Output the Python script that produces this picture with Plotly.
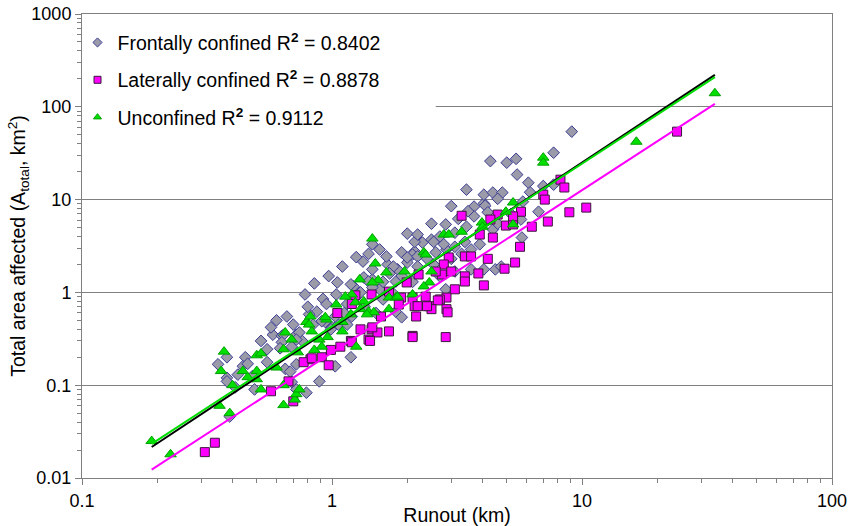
import numpy as np
import plotly.graph_objects as go

# ---------------- data ----------------
front_x = [0.35,0.38,0.38,0.38,0.45,0.44,0.46,0.48,0.49,0.55,0.55,0.58,0.63,0.65,0.68,0.72,0.69,0.39,0.72,0.72,
           0.64,0.63,0.69,0.76,0.89,0.79,1.19,0.87,0.81,0.94,1.0,1.06,0.74,1.8,1.9,2.85,3.1,4.05,4.5,
           1.05,1.22,1.34,1.45,1.55,1.74,1.6,1.4,1.33,1.45,1.67,1.83,2.0,2.55,2.7,1.65,1.9,2.14,2.0,2.3,2.5,2.7,3.1,3.45,2.5,2.85,3.7,4.05,
           2.1,1.76,1.19,1.04,1.4,1.8,0.91,0.72,1.15,1.03,0.99,1.45,
           3.45,4.05,4.4,4.8,4.1,4.2,3.7,2.14,2.55,2.2,2.87,2.0,2.2,5.75,4.75,3.6,4.4,3.4,3.1,
           9.1,7.7,5.45,5.0,4.3,5.5,6.1,4.6,6.7,5.7,7.0,7.7,1.03,
           0.78,0.85,0.92,0.97,1.1,1.25,1.15,1.25,1.3,0.6,0.66,0.52,0.57,0.62,0.8,0.84,1.12,1.2,1.35,1.5,
           1.6,1.7,1.9,2.1,2.2,2.4,2.6,2.8,3.0,3.3,3.6,3.9,3.2,3.5,4.6,5.2,5.8,6.2,3.0,
           1.45,1.55,0.42,0.41,0.95,0.7]
front_y = [0.168,0.2,0.12,0.11,0.2,0.16,0.17,0.125,0.09,0.177,0.244,0.35,0.34,0.15,0.14,0.168,0.108,0.046,0.35,0.09,
           0.35,0.29,0.26,0.3,0.11,0.083,0.2,0.62,0.58,0.48,0.42,0.45,0.37,0.62,0.54,1.08,1.68,1.77,1.77,
           1.28,1.16,1.45,1.38,1.08,1.0,0.84,2.6,2.15,1.77,2.0,1.77,2.1,2.0,1.49,2.44,2.7,2.76,4.3,3.45,3.7,4.0,4.4,5.1,5.5,5.4,8.4,9.1,
           2.56,1.9,1.22,0.95,1.31,1.31,0.49,0.31,0.45,0.55,0.4,1.13,
           12.8,11.3,11.9,11.9,8.6,7.3,6.6,3.5,3.5,4.2,2.9,2.38,2.44,3.9,1.9,1.77,4.76,3.5,3.1,
           54,32,27.5,25,26,18.6,15.2,10.2,7.4,6.1,14,14.5,0.16,
           0.95,1.25,0.85,1.5,1.9,2.4,0.75,0.9,1.0,0.5,0.55,0.3,0.42,0.25,0.7,0.45,0.6,0.55,0.7,0.6,
           1.3,1.6,1.5,1.3,1.9,2.3,2.7,3.3,2.3,2.6,2.9,3.3,6.2,7.5,5.5,7.0,9.5,12,8.5,
           3.3,2.9,0.13,0.095,0.75,0.45]

lat_x = [0.31,0.34,0.57,0.67,0.7,
         1.24,1.44,1.69,1.89,2.1,2.14,2.17,1.85,1.3,1.44,1.52,1.69,2.1,1.4,1.19,1.08,0.99,0.91,0.82,0.77,0.97,
         3.3,4.6,4.96,5.3,3.9,4.4,5.65,3.4,3.6,4.2,2.93,2.8,3.0,2.75,3.4,3.85,4.9,5.4,3.4,4.05,3.1,2.22,1.99,2.87,2.7,2.37,2.2,2.45,2.87,
         8.2,8.5,7.0,7.1,10.4,8.9,7.3,6.3,5.7,5.3,4.3,
         2.85,2.9,2.65,2.5,24,2.1,0.83,1.2,1.42,1.45,1.57,2.4,2.6,1.2,1.05]
lat_y = [0.019,0.024,0.086,0.11,0.067,
         0.93,0.95,1.02,0.88,0.88,0.71,0.55,0.74,0.4,0.4,0.37,0.38,0.34,0.31,0.3,0.26,0.24,0.2,0.19,0.177,0.164,
         6.7,6.9,5.25,5.4,4.2,3.9,3.1,2.44,2.44,2.3,2.38,2.0,1.68,1.56,1.49,1.6,1.8,2.1,1.31,1.19,1.08,1.56,1.28,0.88,0.84,0.9,0.71,0.71,0.66,
         16.4,13.5,11.3,10.0,8.2,7.3,5.8,5.1,7.4,6.6,6.1,
         0.33,0.61,0.82,0.66,54,0.33,0.195,0.29,0.3,0.42,0.55,0.71,1.68,0.75,0.6]

unc_x = [0.19,0.226,0.355,0.39,0.37,0.36,0.5,0.52,0.44,0.46,0.5,0.5,0.52,0.6,0.64,0.65,0.69,0.64,0.71,0.72,0.64,0.4,0.74,0.79,
         1.49,1.29,1.53,1.65,1.95,1.2,1.04,1.24,1.34,1.3,1.4,1.47,1.69,1.8,1.69,0.82,0.81,0.95,1.1,1.1,0.83,0.89,0.91,0.85,0.96,1.25,
         5.3,4.96,5.3,3.98,3.3,2.8,2.93,2.33,2.5,2.45,2.33,2.1,
         7.0,7.0,4.0,1.45,16.5,34,0.73,0.94,1.13,1.19,1.38,1.83,2.37,1.45]
unc_y = [0.025,0.018,0.06,0.05,0.23,0.142,0.21,0.22,0.142,0.122,0.142,0.116,0.09,0.155,0.244,0.37,0.31,0.061,0.07,0.08,0.1,0.1,0.09,0.48,
         2.05,1.38,1.35,1.64,1.68,0.95,0.74,0.78,0.8,0.66,0.62,0.61,0.88,0.88,0.66,0.55,0.45,0.51,0.48,0.38,0.38,0.31,0.26,0.24,0.33,0.26,
         9.3,7.4,5.4,5.65,4.5,4.2,4.2,2.7,1.68,1.28,1.16,0.95,
         28.3,25,5.1,3.8,42,140,0.226,0.54,0.9,0.58,0.58,0.9,2.56,1.28]

# power-law trend lines y = a * x^b, drawn over the x range of the data
fit_xrange = [0.19, 34]
front_fit = (0.415, 1.78)
lat_fit = (0.225, 1.75)
unc_fit = (0.43, 1.754)

names = ["Frontally confined R<sup><b>2</b></sup> = 0.8402",
         "Laterally confined R<sup><b>2</b></sup> = 0.8878",
         "Unconfined R<sup><b>2</b></sup> = 0.9112"]

FONT = "Arial, Liberation Sans, sans-serif"
styles = [
    dict(symbol="diamond", color="#9a9aa8", line=dict(color="#3c3c96", width=1)),
    dict(symbol="square", color="#ff00ff", line=dict(color="#3a1a3a", width=1)),
    dict(symbol="triangle-up", color="#00e000", line=dict(color="#00a000", width=1)),
]
sizes = [9, 9, 10]

fig = go.Figure()
for (xv, yv), st, sz in zip([(front_x, front_y), (lat_x, lat_y), (unc_x, unc_y)], styles, sizes):
    fig.add_trace(go.Scatter(x=xv, y=yv, mode="markers", showlegend=False,
                             marker=dict(size=sz, **st)))

xs = np.geomspace(fit_xrange[0], fit_xrange[1], 50)
for (a, b), col in [(front_fit, "#000000"), (lat_fit, "#ff00ff"), (unc_fit, "#00dd00")]:
    fig.add_trace(go.Scatter(x=xs, y=a * xs ** b, mode="lines", showlegend=False,
                             line=dict(color=col, width=2), hoverinfo="skip"))

# legend-only entries with small symbols as in the reference
for i, (nm, st) in enumerate(zip(names, styles)):
    fig.add_trace(go.Scatter(x=[None], y=[None], mode="markers", name=nm, legendgroup=str(i),
                             marker=dict(size=7, **st)))

decades_x = [0.1, 1, 10, 100]
decades_y = [0.01, 0.1, 1, 10, 100, 1000]
minor_x = [d * k for d in decades_x[:-1] for k in range(2, 10)]
minor_y = [d * k for d in decades_y[:-1] for k in range(2, 10)]

fig.update_xaxes(type="log", range=[-1, 2], tickvals=decades_x, ticktext=["0.1", "1", "10", "100"],
                 ticks="outside", ticklen=6, tickcolor="#808080", showline=True, linecolor="#808080",
                 linewidth=1, mirror=True, showgrid=False, zeroline=False, automargin=False,
                 minor=dict(tickvals=minor_x, ticks="outside", ticklen=4, tickcolor="#808080", showgrid=False),
                 tickfont=dict(family=FONT, size=18, color="black"),
                 title=dict(text="Runout (km)", font=dict(family=FONT, size=19.5, color="black"), standoff=0))
fig.update_yaxes(type="log", range=[-2, 3], tickvals=decades_y,
                 ticktext=["0.01", "0.1", "1", "10", "100", "1000"],
                 ticks="outside", ticklen=6, tickcolor="#808080", showline=True, linecolor="#808080",
                 linewidth=1, mirror=True, showgrid=True, gridcolor="#808080", gridwidth=1, zeroline=False,
                 automargin=False,
                 minor=dict(tickvals=minor_y, ticks="outside", ticklen=4, tickcolor="#808080", showgrid=False),
                 tickfont=dict(family=FONT, size=18, color="black"),
                 title=dict(text="Total area affected (A<sub>total</sub>, km<sup>2</sup>)",
                            font=dict(family=FONT, size=19.5, color="black"), standoff=0))

# white legend panel hiding the grid behind the legend
fig.add_shape(type="rect", xref="x", yref="y", x0=0.1, x1=2.6, y0=40, y1=1000,
              fillcolor="white", line=dict(width=0), layer="between")

fig.update_layout(
    width=848, height=526,
    margin=dict(l=82, r=16, t=14, b=48, autoexpand=False),
    plot_bgcolor="white", paper_bgcolor="white",
    font=dict(family=FONT, size=16, color="black"),
    legend=dict(x=-0.006, y=0.98, xanchor="left", yanchor="top", bgcolor="rgba(0,0,0,0)",
                font=dict(family=FONT, size=19.5, color="black"), tracegroupgap=9,
                traceorder="grouped"),
    showlegend=True,
)

fig.write_html("out.html")
